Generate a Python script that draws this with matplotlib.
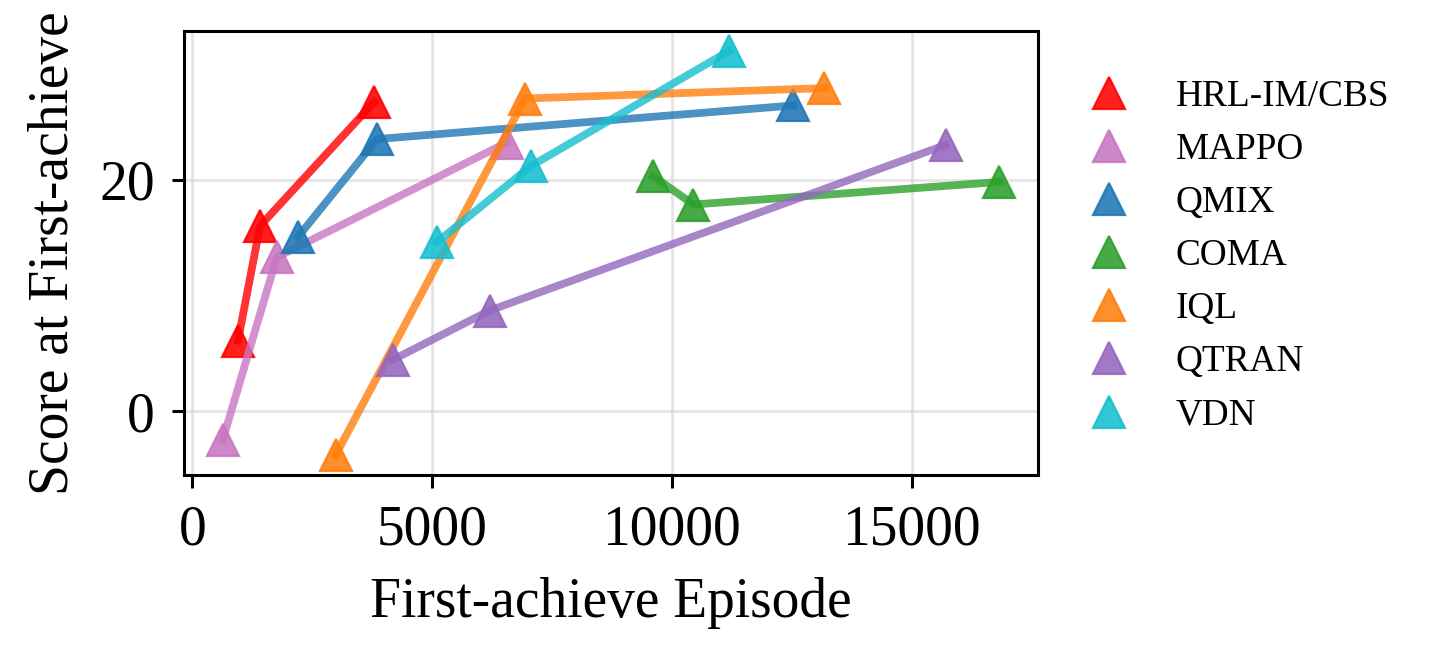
import matplotlib
matplotlib.use("Agg")
import matplotlib.pyplot as plt

plt.rcParams['font.family'] = ['Liberation Serif', 'DejaVu Serif']
plt.rcParams['font.size'] = 20

methods = ["HRL-IM/CBS", "MAPPO", "QMIX", "COMA", "IQL", "QTRAN", "VDN"]
colors = ["#ff0000", "#c876c2", "#1f77b4", "#2ca02c", "#ff7f0e", "#9467bd", "#17becf"]

# first-achieve episode (x) and score (y) per method
hrl_x = [950, 1410, 3790]
hrl_y = [6.1, 16.0, 26.7]
mappo_x = [630, 1760, 6560]
mappo_y = [-2.5, 13.3, 23.2]
qmix_x = [2200, 3850, 12530]
qmix_y = [15.05, 23.5, 26.4]
coma_x = [9610, 10450, 16830]
coma_y = [20.3, 17.85, 19.8]
iql_x = [2990, 6940, 13180]
iql_y = [-3.75, 27.0, 27.9]
qtran_x = [4180, 6200, 15710]
qtran_y = [4.45, 8.7, 23.0]
vdn_x = [5100, 7070, 11190]
vdn_y = [14.6, 21.2, 31.1]

xs = [hrl_x, mappo_x, qmix_x, coma_x, iql_x, qtran_x, vdn_x]
ys = [hrl_y, mappo_y, qmix_y, coma_y, iql_y, qtran_y, vdn_y]

fig = plt.figure(figsize=(7.18, 3.28), dpi=200)
ax = fig.add_axes([0.128, 0.276, 0.595, 0.677])

for name, c, x, y in zip(methods, colors, xs, ys):
    ax.plot(x, y, color=c, linewidth=2.8, alpha=0.8)
    ax.plot(x, y, linestyle='none', marker='^', markersize=11.5, markeredgewidth=0.8,
            color=c, alpha=0.88, label=name)

ax.set_xlabel("First-achieve Episode", labelpad=7.5)
ax.set_ylabel("Score at First-achieve", labelpad=7)
ax.set_yticks([0, 20])
ax.set_xticks([0, 5000, 10000, 15000])
ax.grid(True, color='lightgray', alpha=0.6, linewidth=1)
for s in ax.spines.values():
    s.set_linewidth(1.1)
ax.tick_params(width=1.1, length=4.5, pad=6)

ax.legend(loc='upper left', bbox_to_anchor=(1.0, 0.966), frameon=False,
          fontsize=13.4, labelspacing=0.5)

fig.savefig("out.png", dpi=200)
